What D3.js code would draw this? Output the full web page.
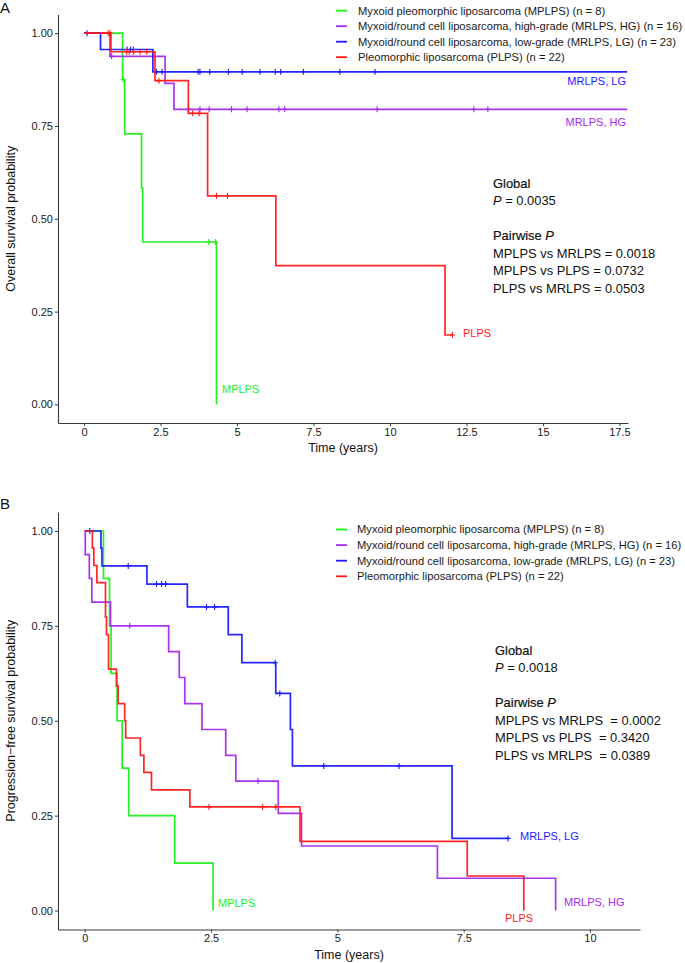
<!DOCTYPE html>
<html><head><meta charset="utf-8">
<script src="https://cdn.jsdelivr.net/npm/d3@7"></script>
<style>
body{margin:0;background:#fff;}
svg{display:block;font-family:"Liberation Sans",Arial,Helvetica,sans-serif;}
</style></head>
<body>
<svg id="chart" width="685" height="963"></svg>
<script>
// ---------- DATA ----------
const groups = ["MPLPS","MRLPS, HG","MRLPS, LG","PLPS"];
const legendLabels = [
  "Myxoid pleomorphic liposarcoma (MPLPS) (n = 8)",
  "Myxoid/round cell liposarcoma, high-grade (MRLPS, HG) (n = 16)",
  "Myxoid/round cell liposarcoma, low-grade (MRLPS, LG) (n = 23)",
  "Pleomorphic liposarcoma (PLPS) (n = 22)"
];
const colors = ["#1AF01A","#A52AF0","#1A1AFF","#FF1A1A"];

// Panel A: overall survival
const osMPLPS_t = [1.26, 1.33, 1.88, 1.92, 4.33];
const osMPLPS_s = [0.875, 0.729, 0.583, 0.4375, 0];
const osMPLPS_c = [1.28, 4.08, 4.30];
const osMPLPS_end = 4.33;

const osHG_t = [0.85, 2.65, 2.94];
const osHG_s = [0.9375, 0.865, 0.795];
const osHG_c = [0.90, 3.41, 3.79, 4.09, 4.82, 5.33, 6.37, 6.56, 9.58, 12.74, 13.2];
const osHG_end = 17.75;

const osLG_t = [0.54, 2.25];
const osLG_s = [0.956, 0.896];
const osLG_c = [0.10, 1.41, 1.52, 1.61, 2.37, 2.55, 3.73, 3.79, 4.11, 4.72, 5.17, 5.75, 6.25, 6.43, 7.17, 8.36, 9.51];
const osLG_end = 17.75;

const osPLPS_t = [0.88, 2.32, 3.41, 4.04, 6.27, 11.8];
const osPLPS_s = [0.95, 0.872, 0.784, 0.562, 0.374, 0.187];
const osPLPS_c = [0.79, 0.85, 1.39, 1.48, 1.61, 1.83, 2.05, 2.45, 3.55, 3.76, 4.33, 4.69, 12.04];
const osPLPS_end = 12.04;

// Panel B: progression-free survival
const pfsMPLPS_t = [0.37, 0.49, 0.52, 0.64, 0.74, 0.87, 1.78, 2.54];
const pfsMPLPS_s = [0.875, 0.75, 0.625, 0.5, 0.375, 0.25, 0.125, 0];
const pfsMPLPS_c = [];
const pfsMPLPS_end = 2.54;

const pfsHG_t = [0.01, 0.09, 0.14, 0.51, 1.66, 1.87, 1.98, 2.32, 2.79, 2.99, 3.83, 4.29, 6.98, 9.32];
const pfsHG_s = [0.9375, 0.875, 0.8125, 0.75, 0.682, 0.614, 0.545, 0.477, 0.409, 0.341, 0.256, 0.17, 0.085, 0];
const pfsHG_c = [0.89, 3.43];
const pfsHG_end = 9.32;

const pfsLG_t = [0.32, 0.34, 1.23, 2.03, 2.84, 3.11, 3.78, 4.07, 4.11, 7.27];
const pfsLG_s = [0.955, 0.908, 0.86, 0.80, 0.727, 0.653, 0.572, 0.477, 0.381, 0.19];
const pfsLG_c = [0.10, 0.86, 1.42, 1.52, 1.60, 2.41, 2.57, 3.77, 3.86, 4.73, 6.22, 8.38];
const pfsLG_end = 8.38;

const pfsPLPS_t = [0.15, 0.18, 0.24, 0.41, 0.43, 0.47, 0.626, 0.66, 0.79, 0.81, 1.10, 1.17, 1.32, 2.08, 4.26, 7.57, 8.69];
const pfsPLPS_s = [0.955, 0.909, 0.864, 0.773, 0.727, 0.636, 0.591, 0.545, 0.5, 0.4545, 0.409, 0.364, 0.318, 0.273, 0.182, 0.091, 0];
const pfsPLPS_c = [2.46, 3.52, 3.78];
const pfsPLPS_end = 8.69;

const ticksA = [0, 2.5, 5, 7.5, 10, 12.5, 15, 17.5];
const ticksB = [0, 2.5, 5, 7.5, 10];
const ticksY = [0, 0.25, 0.5, 0.75, 1];

const statsA = ["Global", "P = 0.0035", "", "Pairwise P", "MPLPS vs MRLPS = 0.0018", "MPLPS vs PLPS = 0.0732", "PLPS vs MRLPS = 0.0503"];
const statsB = ["Global", "P = 0.0018", "", "Pairwise P", "MPLPS vs MRLPS  = 0.0002", "MPLPS vs PLPS  = 0.3420", "PLPS vs MRLPS  = 0.0389"];

// ---------- DRAW ----------
const svg = d3.select("#chart");

function panel(cfg){
  const x = d3.scaleLinear().domain(cfg.xdom).range(cfg.xr);
  const y = d3.scaleLinear().domain([-0.05, 1.05]).range(cfg.yr);
  const g = svg.append("g");

  // axes
  const ax = g.append("g").attr("transform", `translate(0,${cfg.yr[0]})`)
    .call(d3.axisBottom(x).tickValues(cfg.ticks).tickFormat(d3.format("~g")).tickSize(3).tickPadding(2).tickSizeOuter(0));
  const ay = g.append("g").attr("transform", `translate(${cfg.xr[0]},0)`)
    .call(d3.axisLeft(y).tickValues(ticksY).tickFormat(d3.format(".2f")).tickSize(3).tickPadding(2).tickSizeOuter(0));
  [ax, ay].forEach(a => {
    a.select(".domain").attr("stroke", "#3a3a3a").attr("stroke-width", 1.1);
    a.selectAll(".tick line").attr("stroke", "#3a3a3a").attr("stroke-width", 1);
    a.selectAll(".tick text").attr("fill", "#1a1a1a").style("font-size", "11px");
  });

  // curves
  const line = d3.line().x(d => x(d[0])).y(d => y(d[1])).curve(d3.curveStepAfter);
  cfg.series.forEach((s, i) => {
    const pts = [[0, 1]];
    s.t.forEach((t, k) => pts.push([t, s.s[k]]));
    const last = pts[pts.length - 1][1];
    if (s.end > pts[pts.length - 1][0]) pts.push([s.end, last]);
    g.append("path").attr("d", line(pts)).attr("fill", "none")
      .attr("stroke", colors[i]).attr("stroke-width", 1.7).attr("stroke-opacity", 0.95);
    // censor marks
    const level = t => { let v = 1; s.t.forEach((tt, k) => { if (tt <= t) v = s.s[k]; }); return v; };
    s.c.forEach(ct => {
      const cx = x(ct), cy = y(level(ct));
      g.append("path").attr("d", `M${cx - 2.5},${cy}H${cx + 2.5}M${cx},${cy - 3}V${cy + 3}`)
        .attr("stroke", colors[i]).attr("stroke-width", 1.1).attr("fill", "none");
    });
  });

  // curve labels
  cfg.labels.forEach(l => {
    g.append("text").attr("x", l.x).attr("y", l.y).attr("dy", "0.35em")
      .attr("text-anchor", l.anchor).attr("fill", colors[l.i]).style("font-size", "11px")
      .text(groups[l.i]);
  });

  // legend
  legendLabels.forEach((lab, i) => {
    const ly = cfg.legY + i * cfg.legDy;
    g.append("line").attr("x1", 336).attr("x2", 347).attr("y1", ly).attr("y2", ly)
      .attr("stroke", colors[i]).attr("stroke-width", 1.8);
    g.append("text").attr("x", cfg.legX).attr("y", ly).attr("dy", "0.35em")
      .attr("fill", "#1a1a1a").style("font-size", "11.2px").text(lab);
  });

  // stats
  cfg.stats.forEach((st, i) => {
    if (!st) return;
    const t = g.append("text").attr("x", cfg.stX).attr("y", cfg.stY + i * 17.5).attr("dy", "0.35em")
      .attr("fill", "#111").style("font-size", "12.9px").attr("xml:space", "preserve").style("white-space", "pre");
    if (st.startsWith("P = ")) {
      t.append("tspan").style("font-style", "italic").text("P");
      t.append("tspan").text(st.slice(1));
    } else if (st === "Pairwise P") {
      t.attr("stroke", "#111").attr("stroke-width", 0.2);
      t.append("tspan").text("Pairwise ");
      t.append("tspan").style("font-style", "italic").text("P");
    } else {
      if (st === "Global") t.attr("stroke", "#111").attr("stroke-width", 0.2);
      t.text(st);
    }
  });

  // axis titles
  g.append("text").attr("x", (cfg.xr[0] + cfg.xr[1]) / 2).attr("y", cfg.xTitleY).attr("text-anchor", "middle")
    .attr("fill", "#111").style("font-size", "12.5px").text("Time (years)");
  const yc = (cfg.yr[0] + cfg.yr[1]) / 2;
  g.append("text").attr("transform", `translate(15,${yc}) rotate(-90)`).attr("text-anchor", "middle")
    .attr("fill", "#111").style("font-size", "12.5px").text(cfg.yTitle);

  // panel letter
  g.append("text").attr("x", 0).attr("y", cfg.letterY).attr("fill", "#111")
    .style("font-size", "15px").text(cfg.letter);
}

panel({
  xdom: [-0.85, 17.78], xr: [58, 628], yr: [423, 14.6], ticks: ticksA,
  series: [
    {t: osMPLPS_t, s: osMPLPS_s, c: osMPLPS_c, end: osMPLPS_end},
    {t: osHG_t, s: osHG_s, c: osHG_c, end: osHG_end},
    {t: osLG_t, s: osLG_s, c: osLG_c, end: osLG_end},
    {t: osPLPS_t, s: osPLPS_s, c: osPLPS_c, end: osPLPS_end}
  ],
  labels: [
    {i: 0, x: 222, y: 389, anchor: "start"},
    {i: 1, x: 626, y: 122, anchor: "end"},
    {i: 2, x: 626, y: 81, anchor: "end"},
    {i: 3, x: 463, y: 333, anchor: "start"}
  ],
  legY: 10.7, legDy: 15.5, legX: 358,
  stats: statsA, stX: 493, stY: 183,
  xTitleY: 452, yTitle: "Overall survival probability",
  letter: "A", letterY: 13
});

panel({
  xdom: [-0.53, 10.99], xr: [58, 640], yr: [929.5, 512], ticks: ticksB,
  series: [
    {t: pfsMPLPS_t, s: pfsMPLPS_s, c: pfsMPLPS_c, end: pfsMPLPS_end},
    {t: pfsHG_t, s: pfsHG_s, c: pfsHG_c, end: pfsHG_end},
    {t: pfsLG_t, s: pfsLG_s, c: pfsLG_c, end: pfsLG_end},
    {t: pfsPLPS_t, s: pfsPLPS_s, c: pfsPLPS_c, end: pfsPLPS_end}
  ],
  labels: [
    {i: 0, x: 218, y: 903, anchor: "start"},
    {i: 1, x: 564, y: 902, anchor: "start"},
    {i: 2, x: 520, y: 836, anchor: "start"},
    {i: 3, x: 505, y: 918, anchor: "start"}
  ],
  legY: 529.5, legDy: 15.6, legX: 357,
  stats: statsB, stX: 495, stY: 650,
  xTitleY: 959, yTitle: "Progression\u2212free survival probability",
  letter: "B", letterY: 509
});
</script>
</body></html>
